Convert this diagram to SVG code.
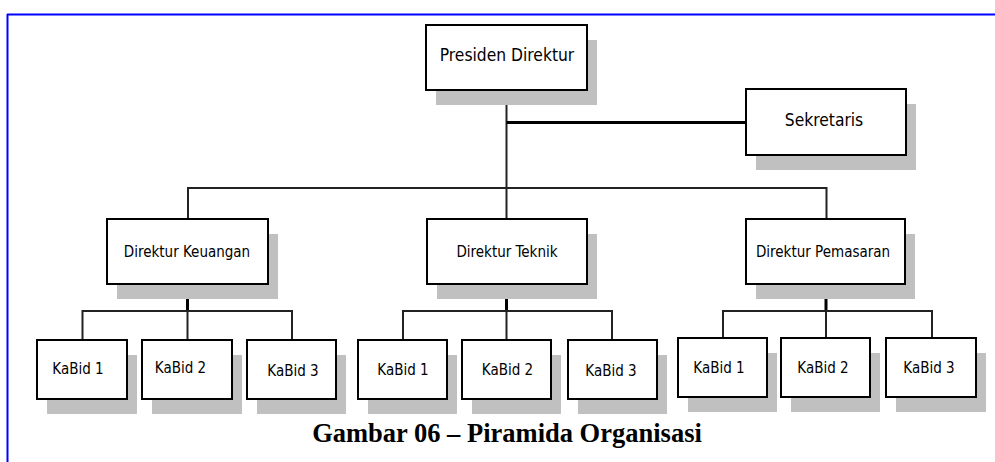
<svg xmlns="http://www.w3.org/2000/svg" width="995" height="462" viewBox="0 0 995 462">
<style>
.shadow{fill:#c0c0c0;stroke:none}
.box{fill:#ffffff;stroke:#000000;stroke-width:2}
.lbl{font-family:"DejaVu Sans Condensed","DejaVu Sans",sans-serif;font-stretch:condensed;fill:#000000;text-anchor:middle}
.big{font-size:17.3px}
.sm{font-size:15px}
.line{stroke:#222222;stroke-width:2;fill:none}
.thick{stroke:#000000;stroke-width:3;fill:none}
.caption{font-family:"Liberation Serif","Times New Roman",serif;font-weight:bold;font-size:26.5px;text-anchor:middle;fill:#000}
</style>
<rect x="0" y="0" width="995" height="462" fill="#ffffff"/>
<path d="M7 14.5 H995 M7.5 14 V462" stroke="#0000ff" stroke-width="2" fill="none"/>

<g id="connectors">
  <path class="line" d="M506.5 90 V219"/>
  <path class="thick" d="M506.5 122.5 H746"/>
  <path class="line" d="M188 219 V188 H826.5 V219"/>
  <path class="thick" d="M187.5 284 V311"/>
  <path class="line" d="M82.5 340 V311 H292 V340 M187.5 311 V340"/>
  <path class="thick" d="M506.5 284 V311"/>
  <path class="line" d="M403 340 V311 H612 V340 M506.5 311 V340"/>
  <path class="thick" d="M826 284 V311"/>
  <path class="line" d="M723 338 V311 H932 V338 M826 311 V338"/>
</g>

<g id="presiden">
  <rect class="shadow" x="436" y="40" width="161" height="65"/>
  <rect class="box" x="426" y="25" width="161" height="65"/>
  <text class="lbl big" x="507" y="61">Presiden Direktur</text>
</g>
<g id="sekretaris">
  <rect class="shadow" x="756" y="104" width="160" height="66"/>
  <rect class="box" x="746" y="89" width="160" height="66"/>
  <text class="lbl big" x="824" y="126">Sekretaris</text>
</g>

<g id="dir-keuangan">
  <rect class="shadow" x="117" y="234" width="161" height="65"/>
  <rect class="box" x="107" y="219" width="161" height="65"/>
  <text class="lbl sm" x="187" y="257">Direktur Keuangan</text>
</g>
<g id="dir-teknik">
  <rect class="shadow" x="437" y="234" width="160" height="65"/>
  <rect class="box" x="427" y="219" width="160" height="65"/>
  <text class="lbl sm" x="507" y="257">Direktur Teknik</text>
</g>
<g id="dir-pemasaran">
  <rect class="shadow" x="756" y="234" width="159" height="65"/>
  <rect class="box" x="746" y="219" width="159" height="65"/>
  <text class="lbl sm" x="823" y="257">Direktur Pemasaran</text>
</g>

<g id="keu-kabid1">
  <rect class="shadow" x="47" y="355" width="90" height="59"/>
  <rect class="box" x="37" y="340" width="90" height="59"/>
  <text class="lbl sm" x="78" y="374">KaBid 1</text>
</g>
<g id="keu-kabid2">
  <rect class="shadow" x="152" y="355" width="90" height="59"/>
  <rect class="box" x="142" y="340" width="90" height="59"/>
  <text class="lbl sm" x="180.5" y="373">KaBid 2</text>
</g>
<g id="keu-kabid3">
  <rect class="shadow" x="257" y="355" width="89" height="59"/>
  <rect class="box" x="247" y="340" width="89" height="59"/>
  <text class="lbl sm" x="293" y="375.5">KaBid 3</text>
</g>

<g id="tek-kabid1">
  <rect class="shadow" x="368" y="355" width="89" height="59"/>
  <rect class="box" x="358" y="340" width="89" height="59"/>
  <text class="lbl sm" x="403" y="375">KaBid 1</text>
</g>
<g id="tek-kabid2">
  <rect class="shadow" x="472" y="355" width="89" height="59"/>
  <rect class="box" x="462" y="340" width="89" height="59"/>
  <text class="lbl sm" x="507.5" y="375">KaBid 2</text>
</g>
<g id="tek-kabid3">
  <rect class="shadow" x="578" y="355" width="89" height="59"/>
  <rect class="box" x="568" y="340" width="89" height="59"/>
  <text class="lbl sm" x="611" y="375.5">KaBid 3</text>
</g>

<g id="pem-kabid1">
  <rect class="shadow" x="688" y="353" width="89" height="59"/>
  <rect class="box" x="678" y="338" width="89" height="59"/>
  <text class="lbl sm" x="719" y="373">KaBid 1</text>
</g>
<g id="pem-kabid2">
  <rect class="shadow" x="791" y="353" width="89" height="59"/>
  <rect class="box" x="781" y="338" width="89" height="59"/>
  <text class="lbl sm" x="823" y="373">KaBid 2</text>
</g>
<g id="pem-kabid3">
  <rect class="shadow" x="896" y="353" width="90" height="59"/>
  <rect class="box" x="886" y="338" width="90" height="59"/>
  <text class="lbl sm" x="929" y="373">KaBid 3</text>
</g>

<text class="caption" x="507" y="442">Gambar 06 – Piramida Organisasi</text>
</svg>
